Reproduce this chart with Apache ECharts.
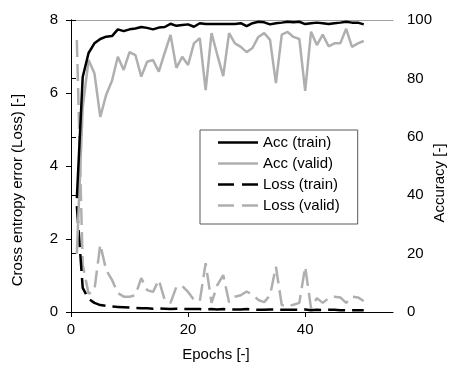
<!DOCTYPE html>
<html>
<head>
<meta charset="utf-8">
<script src="https://cdn.jsdelivr.net/npm/echarts@6/dist/echarts.min.js"></script>
<style>html,body{margin:0;padding:0;background:#fff;}#c{width:453px;height:365px;}</style>
</head>
<body>
<div id="c"></div>
<script>
const epochs = [1,2,3,4,5,6,7,8,9,10,11,12,13,14,15,16,17,18,19,20,21,22,23,24,25,26,27,28,29,30,31,32,33,34,35,36,37,38,39,40,41,42,43,44,45,46,47,48,49,50];
const accTrain = [39,80.5,88.7,92,93.5,94.3,94.5,96.8,96.2,96.8,97.1,97.6,97.3,96.8,97.4,97.6,98.7,98.0,98.3,98.5,97.7,98.9,98.6,98.6,98.6,98.6,98.6,98.6,98.9,97.9,98.9,99.4,99.2,98.5,98.9,99.1,99.4,99.2,99.4,98.6,98.9,99.1,98.9,98.6,98.9,99.1,99.4,99.1,99.1,98.5];
const accValid = [20,70,86.3,81.8,66.8,74.3,79.2,87.4,82.9,89,88,80.6,85.7,86.3,82.3,88.7,94.9,83.6,87.4,84.6,92,93.8,76,95.5,88,80.8,95.5,92,90.8,89,90.4,94.2,95.5,93.2,78.4,95,95.9,94.2,93.5,75.7,96,91.4,95,91,92,92,97,90.8,92,92.8];
const lossTrain = [2.9,0.66,0.36,0.25,0.19,0.17,0.15,0.14,0.13,0.12,0.11,0.1,0.1,0.09,0.1,0.09,0.08,0.09,0.08,0.08,0.08,0.08,0.07,0.08,0.07,0.08,0.07,0.07,0.07,0.08,0.07,0.06,0.06,0.07,0.07,0.06,0.06,0.06,0.06,0.07,0.05,0.06,0.05,0.06,0.06,0.05,0.05,0.05,0.05,0.05];
const lossValid = [7.45,1.3,0.5,0.6,1.85,1.15,0.88,0.52,0.42,0.42,0.46,0.93,0.6,0.55,0.88,0.33,0.25,0.69,0.71,0.55,0.33,0.3,1.34,0.25,0.74,1.01,0.27,0.42,0.46,0.56,0.48,0.33,0.27,0.46,1.24,0.19,0.16,0.2,0.25,1.24,0.1,0.38,0.25,0.38,0.42,0.4,0.25,0.42,0.4,0.3];
const xTicks = [0,20,40];
const seriesNames = ['Acc (train)','Acc (valid)','Loss (train)','Loss (valid)'];
const xTitle = 'Epochs [-]';
const yLeftTitle = 'Cross entropy error (Loss) [-]';
const yRightTitle = 'Accuracy [-]';

const FONT = 'Liberation Sans, Arial, sans-serif';
const GRAY = '#afafaf';
const SOLID_ICON = 'path://M0,0h40v2.5h-40z';
const DASH_ICON = 'path://M0,0h16v2.5h-16z M24,0h16v2.5h-16z';
const pairs = arr => epochs.map((e,i)=>[e,arr[i]]);
const chart = echarts.init(document.getElementById('c'), null, {renderer:'canvas'});
const axisTxt = {color:'#000', fontFamily:FONT, fontSize:15};
chart.setOption({
  animation:false,
  backgroundColor:'#fff',
  grid:{left:71,right:60,top:20,bottom:53},
  legend:{
    orient:'vertical', left:200, top:130,
    padding:[4,18,10,18], itemGap:4, itemWidth:40, itemHeight:2.5,
    borderColor:'#595959', borderWidth:1, backgroundColor:'#fff',
    textStyle:{color:'#000', fontFamily:FONT, fontSize:15, lineHeight:17},
    data:[
      {name:seriesNames[0], icon:SOLID_ICON},
      {name:seriesNames[1], icon:SOLID_ICON},
      {name:seriesNames[2], icon:DASH_ICON},
      {name:seriesNames[3], icon:DASH_ICON}
    ]
  },
  xAxis:[{
    type:'value', min:0, max:55, interval:20,
    axisLine:{show:true,lineStyle:{color:'#000',width:1}},
    axisTick:{show:true,inside:false,length:5,lineStyle:{color:'#000'},customValues:xTicks},
    axisLabel:{...axisTxt, margin:10, customValues:xTicks},
    splitLine:{show:false}
  },{
    type:'value', min:0, max:55, position:'top',
    axisLine:{show:true,onZero:false,lineStyle:{color:'#a0a0a0',width:1}},
    axisTick:{show:false}, axisLabel:{show:false}, splitLine:{show:false}
  }],
  yAxis:[{
    type:'value', min:0, max:8, interval:2, position:'left',
    axisLine:{show:true,lineStyle:{color:'#000',width:1}},
    axisTick:{show:true,length:5,lineStyle:{color:'#000'}},
    axisLabel:{...axisTxt, margin:13},
    splitLine:{show:false}
  },{
    type:'value', min:0, max:100, interval:20, position:'right',
    axisLine:{show:true,lineStyle:{color:'#000',width:1}},
    axisTick:{show:true,length:5,lineStyle:{color:'#000'}},
    axisLabel:{...axisTxt, margin:14},
    splitLine:{show:false}
  }],
  graphic:[
    {type:'text', x:216, y:355, style:{text:xTitle, font:'15px '+FONT, fill:'#000', align:'center', verticalAlign:'middle'}},
    {type:'text', x:18, y:190, rotation:Math.PI/2, style:{text:yLeftTitle, font:'15px '+FONT, fill:'#000', align:'center', verticalAlign:'middle'}},
    {type:'text', x:440, y:183, rotation:Math.PI/2, style:{text:yRightTitle, font:'15px '+FONT, fill:'#000', align:'center', verticalAlign:'middle'}}
  ],
  series:[
    {name:seriesNames[3], type:'line', yAxisIndex:0, data:pairs(lossValid), symbol:'none', lineStyle:{color:GRAY,width:2.5,type:[17,7]}, itemStyle:{color:GRAY}, z:2},
    {name:seriesNames[2], type:'line', yAxisIndex:0, data:pairs(lossTrain), symbol:'none', lineStyle:{color:'#000',width:2.5,type:[17,7]}, itemStyle:{color:'#000'}, z:3},
    {name:seriesNames[1], type:'line', yAxisIndex:1, data:pairs(accValid), symbol:'none', lineStyle:{color:GRAY,width:2.5}, itemStyle:{color:GRAY}, z:4},
    {name:seriesNames[0], type:'line', yAxisIndex:1, data:pairs(accTrain), symbol:'none', lineStyle:{color:'#000',width:2.5}, itemStyle:{color:'#000'}, z:5}
  ]
});
</script>
</body>
</html>
